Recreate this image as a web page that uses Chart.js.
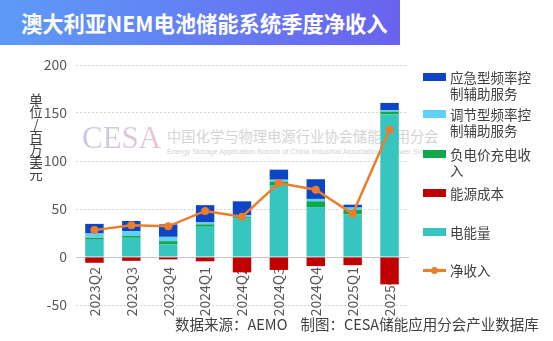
<!DOCTYPE html>
<html>
<head>
<meta charset="utf-8">
<script src="https://cdn.jsdelivr.net/npm/chart.js@4"></script>
<style>
  body { margin: 0; background: #fff; font-family: "Noto Sans CJK SC", "Noto Sans", sans-serif; }
  #wrap { position: relative; width: 553px; height: 341px; overflow: hidden; }
  #banner {
    position: absolute; left: 0; top: 0; width: 400px; height: 45px;
    background: linear-gradient(90deg, #5d9bf7, #6a62ef);
    color: #fff; font-weight: bold; font-size: 21.3px; line-height: 45px;
    padding-left: 21px; box-sizing: border-box; white-space: nowrap;
  }
  #wm { position: absolute; left: 82px; top: 121px; pointer-events: none; }
  #wm .cesa {
    position: absolute; left: 0; top: 0; font-family: "Liberation Serif", "DejaVu Serif", serif;
    font-size: 31px; line-height: 34px;
    background: linear-gradient(90deg, #c6cae6, #ecc4d2); -webkit-background-clip: text; color: transparent;
  }
  #wm .cn { position: absolute; left: 85px; top: 4px; font-size: 14.3px; color: #d4d4d4; white-space: nowrap; }
  #wm .en { position: absolute; left: 85px; top: 26px; font-family: "Liberation Sans", sans-serif; font-size: 7.3px; color: #d2d2d2; white-space: nowrap; }
  canvas { position: absolute; left: 0; top: 0; }
  #unit { position: absolute; left: 29px; top: 93px; width: 14px; font-size: 13.5px; line-height: 12.4px; color: #404040; text-align: center; }
  #legend { position: absolute; left: 423px; top: 72px; font-size: 13.5px; color: #404040; }
  .li { position: absolute; left: 0; white-space: nowrap; }
  .li .sw { position: absolute; left: 0; width: 23px; height: 8px; }
  .li .tx { position: absolute; left: 27px; line-height: 16px; }
  #footer { position: absolute; left: 175px; top: 313px; font-size: 14.5px; color: #404040; white-space: nowrap; }
</style>
</head>
<body>
<div id="wrap">
  <div id="banner">澳大利亚NEM电池储能系统季度净收入</div>
  <div id="wm">
    <div class="cesa">CESA</div>
    <div class="cn">中国化学与物理电源行业协会储能应用分会</div>
    <div class="en">Energy Storage Application Branch of China Industrial Association of Power Sources</div>
  </div>
  <canvas id="myChart" width="553" height="341"></canvas>
  <div id="unit">单<br>位<br>/<br>百<br>万<br>美<br>元</div>
  <div id="legend"></div>
  <div id="footer">数据来源：AEMO&nbsp;&nbsp;&nbsp;&nbsp;制图：CESA储能应用分会产业数据库</div>
</div>
<script>
// quarterly values, million USD
const quarters = ['2023Q2', '2023Q3', '2023Q4', '2024Q1', '2024Q2', '2024Q3', '2024Q4', '2025Q1', '2025Q2'];
const energy = [18, 20, 13, 31.5, 40.5, 75, 52, 44.5, 148.5];
const negPrice = [2, 2, 3.5, 2.5, 1, 3.5, 6, 4.5, 3];
const regulation = [4.5, 5, 4.5, 2, 2, 2, 2.5, 2.5, 1.5];
const contingency = [10, 10.5, 13, 18, 14.5, 10.5, 20.5, 3, 7.5];
const energyCost = [-6, -4, -2.5, -4.5, -16, -13.5, -9.5, -8.5, -28.5];
const netIncome = [28, 33, 32, 48, 42, 77, 70, 45, 132.5];
const yTicks = [-50, 0, 50, 100, 150, 200];

const C = {
  contingency: '#0d45c6',
  regulation: '#5fd0f8',
  negPrice: '#10a84b',
  cost: '#c00000',
  energy: '#36c5bf',
  net: '#ed7d2b'
};

const ctx = document.getElementById('myChart');

new Chart(ctx, {
  data: {
    labels: quarters,
    datasets: [
      { type: 'line', label: '净收入', data: netIncome, order: 0, stack: 'net',
        borderColor: C.net, backgroundColor: C.net, borderWidth: 2.5,
        pointRadius: 4, pointBackgroundColor: C.net, pointBorderWidth: 0, tension: 0 },
      { type: 'bar', label: '电能量', data: energy, backgroundColor: C.energy, order: 1 },
      { type: 'bar', label: '负电价充电收入', data: negPrice, backgroundColor: C.negPrice, order: 1 },
      { type: 'bar', label: '调节型频率控制辅助服务', data: regulation, backgroundColor: C.regulation, order: 1 },
      { type: 'bar', label: '应急型频率控制辅助服务', data: contingency, backgroundColor: C.contingency, order: 1 },
      { type: 'bar', label: '能源成本', data: energyCost, backgroundColor: C.cost, order: 1 }
    ]
  },
  options: {
    responsive: false,
    animation: false,
    layout: { padding: { left: 30, right: 145, top: 65, bottom: 36 } },
    datasets: { bar: { barPercentage: 0.5, categoryPercentage: 1 } },
    plugins: { legend: { display: false }, tooltip: { enabled: false } },
    scales: {
      x: {
        stacked: true,
        position: { y: 0 },
        z: 1,
        grid: { display: false },
        border: { display: true, color: '#c8c8c8', width: 1 },
        ticks: { color: '#595959', font: { size: 14, family: 'Noto Sans CJK SC' },
                 minRotation: 90, maxRotation: 90, padding: 2 }
      },
      y: {
        stacked: true,
        min: -50, max: 200,
        afterBuildTicks: s => { s.ticks = yTicks.map(v => ({ value: v })); },
        afterFit: s => { s.width = 46; },
        border: { display: false, dash: [2, 2] },
        grid: { color: '#d4d4d4', lineWidth: 1, drawTicks: false },
        ticks: { color: '#595959', font: { size: 14, family: 'Noto Sans CJK SC' }, padding: 9 }
      }
    }
  }
});

// legend (html, two-line labels like the source)
const legendItems = [
  { color: C.contingency, lines: ['应急型频率控', '制辅助服务'], y: 0 },
  { color: C.regulation, lines: ['调节型频率控', '制辅助服务'], y: 37 },
  { color: C.negPrice, lines: ['负电价充电收', '入'], y: 77 },
  { color: C.cost, lines: ['能源成本'], y: 116 },
  { color: C.energy, lines: ['电能量'], y: 155 },
  { color: C.net, lines: ['净收入'], y: 193, line: true }
];
const lg = document.getElementById('legend');
legendItems.forEach(it => {
  const d = document.createElement('div');
  d.className = 'li';
  d.style.top = it.y + 'px';
  let sw;
  if (it.line) {
    sw = '<div class="sw" style="top:4px;height:3px;background:' + it.color + '"></div>' +
         '<div class="sw" style="left:8px;top:2px;width:7px;height:7px;border-radius:50%;background:' + it.color + '"></div>';
  } else {
    sw = '<div class="sw" style="top:1px;background:' + it.color + '"></div>';
  }
  d.innerHTML = sw + '<div class="tx" style="top:-3px">' + it.lines.join('<br>') + '</div>';
  lg.appendChild(d);
});
</script>
</body>
</html>
